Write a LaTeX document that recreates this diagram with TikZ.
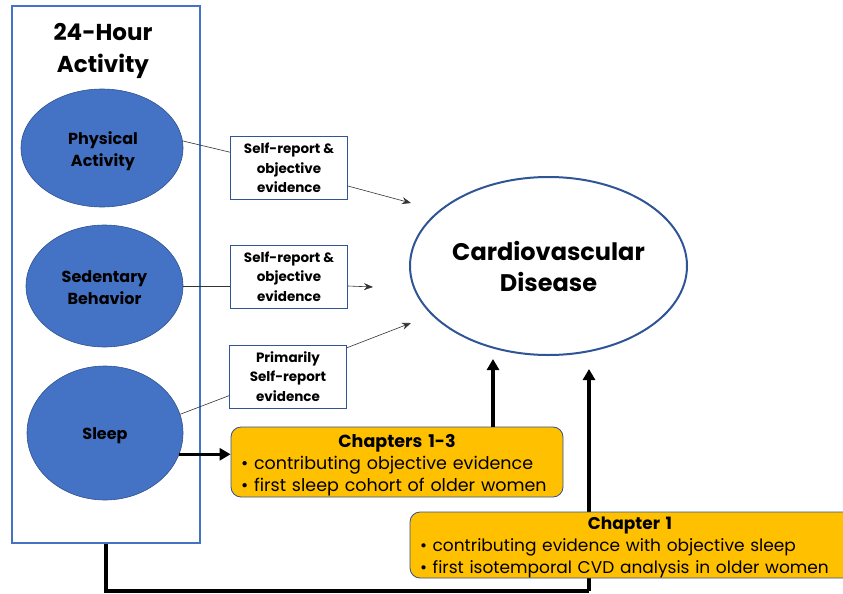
\documentclass[tikz,border=0pt]{standalone}
\usepackage{fontspec}
\setmainfont{Poppins}
\usetikzlibrary{shapes.geometric,arrows.meta,calc}
\definecolor{ablue}{HTML}{4472C4}
\definecolor{edgeblue}{HTML}{2F528F}
\definecolor{boxblue}{HTML}{2F5597}
\definecolor{chyellow}{HTML}{FFC000}
\begin{document}
\begin{tikzpicture}[x=1pt,y=-1pt,
  frame/.style={draw=ablue, line width=2pt, minimum width=188pt, minimum height=537pt, inner sep=0pt},
  titletext/.style={font=\bfseries\fontsize{23}{32}\selectfont, align=center},
  actell/.style={ellipse, draw=edgeblue, line width=0.6pt, fill=ablue, inner sep=0pt},
  acttext/.style={align=center, inner sep=0pt, font=\bfseries\fontsize{16}{22}\selectfont},
  evbox/.style={draw=boxblue, line width=0.8pt, fill=white, minimum width=117pt, minimum height=63pt,
    inner sep=0pt, align=center, font=\bfseries\fontsize{13.5}{19.5}\selectfont},
  cvd/.style={ellipse, draw=boxblue, line width=2pt, minimum width=277pt, minimum height=178pt,
    inner sep=0pt, align=center, font=\bfseries\fontsize{24}{31}\selectfont},
  chbox/.style={draw=edgeblue, line width=0.8pt, fill=chyellow, rounded corners=10pt, inner ysep=0pt,
    align=left},
  thinline/.style={draw=black!80, line width=0.6pt},
  thinarrow/.style={thinline, -{Stealth[length=9pt,width=7pt]}},
  thickarrow/.style={draw=black, line width=3.5pt, -{Triangle[length=11pt,width=12pt]}},
  thickline/.style={draw=black, line width=3.5pt}
]
\useasboundingbox (0,0) rectangle (843,594);

% thick connector from frame bottom (behind the boxes)
\node[frame] (fr) at (106,274.5) {};
\coordinate (turn) at (589,591);
\coordinate (tipb) at (589,369);
\draw[thickline] (fr.south) |- (turn);
\draw[thickarrow] (turn) -- (tipb);

\node[titletext] (title) at (103,51) {24-Hour\\Activity};

\node[actell, minimum width=162pt, minimum height=118pt] (pa) at (102,148) {};
\node[actell, minimum width=157pt, minimum height=122pt] (se) at (104.5,286) {};
\node[actell, minimum width=156pt, minimum height=134pt] (sl) at (105,433) {};
\node[acttext] (patext) at ($(pa.center)+(1,3)$) {Physical\\Activity};
\node[acttext] (setext) at ($(se.center)+(0,2)$) {Sedentary\\Behavior};
\node[acttext] (sltext) at ($(sl.center)+(0,3)$) {Sleep};

\node[evbox] (b1) at (289,168) {Self-report \&\\objective\\evidence};
\node[evbox] (b2) at (289,276.5) {Self-report \&\\objective\\evidence};
\node[evbox] (b3) at (288,376.5) {Primarily\\Self-report\\evidence};

\node[cvd] (cvd) at (548.5,266) {Cardiovascular\\Disease};

\coordinate (tip1) at (411,203);
\coordinate (tip2) at (373,287);
\coordinate (tip3) at (411,323);

\draw[thinline] (pa.5) -- (b1.165);
\draw[thinarrow] (b1.-17) -- (tip1);
\draw[thinline] (se.east) -- (se.east -| b2.west);
\draw[thinarrow] (se.east -| b2.east) -- (tip2);
\draw[thinline] (sl.14) -- (b3.198);
\draw[thinarrow] (b3.26) -- (tip3);

\node[chbox, inner xsep=10pt, minimum width=332pt, minimum height=70pt, text width=312pt,
  font=\fontsize{17.5}{22}\selectfont] (ch13) at (397,462)
  {\rule{0pt}{19pt}\makebox[312pt][c]{\bfseries Chapters 1-3}\\
   \textbullet{} contributing objective evidence\\
   \textbullet{} first sleep cohort of older women};

\node[chbox, inner xsep=10pt, minimum width=450pt, minimum height=66pt, text width=430pt,
  font=\fontsize{17}{22}\selectfont] (ch1) at (635,545)
  {\rule{0pt}{17pt}\makebox[420pt][c]{\bfseries Chapter 1}\\
   \textbullet{} contributing evidence with objective sleep\\
   \textbullet{} first isotemporal CVD analysis in older women};

\coordinate (tipa) at (493,359);
\draw[thickarrow] (sl.-16) -- (sl.-16 -| ch13.west);
\draw[thickarrow] (ch13.north -| tipa) -- (tipa);
\end{tikzpicture}
\end{document}
